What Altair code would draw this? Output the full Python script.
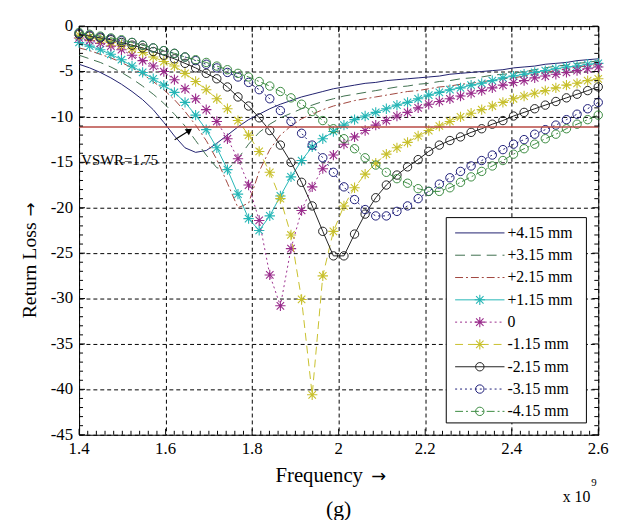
import altair as alt
import pandas as pd

# ---------------- data ----------------
freq = [1.4, 1.4245, 1.449, 1.4735, 1.498, 1.5224, 1.5469, 1.5714, 1.5959, 1.6204,
        1.6449, 1.6694, 1.6939, 1.7184, 1.7429, 1.7673, 1.7918, 1.8163, 1.8408, 1.8653,
        1.8898, 1.9143, 1.9388, 1.9633, 1.9878, 2.0122, 2.0367, 2.0612, 2.0857, 2.1102,
        2.1347, 2.1592, 2.1837, 2.2082, 2.2327, 2.2571, 2.2816, 2.3061, 2.3306, 2.3551,
        2.3796, 2.4041, 2.4286, 2.4531, 2.4776, 2.502, 2.5265, 2.551, 2.5755, 2.6]

rl_p415 = [-4.2, -4.6, -5.1, -5.7, -6.4, -7.2, -8.1, -9.2, -10.6, -12.1,
           -13.4, -13.9, -13.7, -12.9, -12.0, -11.1, -10.3, -9.7, -9.1, -8.6,
           -8.2, -7.8, -7.5, -7.2, -6.9, -6.7, -6.5, -6.3, -6.2, -6.0,
           -5.9, -5.8, -5.7, -5.6, -5.5, -5.3, -5.2, -5.1, -5.0, -4.9,
           -4.8, -4.6, -4.5, -4.4, -4.2, -4.1, -4.0, -3.8, -3.7, -3.6]
rl_p315 = [-3.2, -3.6, -4.0, -4.5, -5.1, -5.8, -6.6, -7.5, -8.5, -9.7,
           -11.0, -12.6, -14.2, -15.6, -15.8, -14.6, -13.0, -11.7, -10.8, -10.1,
           -9.6, -9.1, -8.7, -8.3, -8.0, -7.7, -7.5, -7.3, -7.1, -6.9,
           -6.7, -6.6, -6.4, -6.3, -6.1, -6.0, -5.8, -5.7, -5.6, -5.4,
           -5.3, -5.2, -5.0, -4.8, -4.6, -4.4, -4.3, -4.1, -4.0, -3.8]
rl_p215 = [-2.4, -2.7, -3.1, -3.5, -4.0, -4.6, -5.3, -6.1, -7.0, -8.1,
           -9.4, -10.9, -12.6, -14.7, -17.3, -20.0, -19.5, -16.0, -13.6, -12.0,
           -11.0, -10.2, -9.7, -9.2, -8.8, -8.5, -8.2, -8.0, -7.8, -7.6,
           -7.4, -7.2, -7.1, -6.9, -6.7, -6.6, -6.4, -6.3, -6.1, -6.0,
           -5.8, -5.7, -5.5, -5.3, -5.1, -4.9, -4.7, -4.5, -4.4, -4.2]
rl_p115 = [-1.8, -2.2, -2.6, -3.1, -3.7, -4.4, -5.1, -5.8, -6.5, -7.3,
           -8.4, -9.8, -11.4, -13.4, -15.8, -18.5, -21.2, -22.5, -20.9, -18.7,
           -16.6, -14.8, -13.3, -12.4, -11.6, -10.9, -10.3, -9.9, -9.5, -9.1,
           -8.7, -8.4, -8.0, -7.6, -7.3, -7.0, -6.8, -6.5, -6.3, -6.0,
           -5.7, -5.5, -5.3, -5.1, -4.9, -4.7, -4.5, -4.4, -4.2, -4.1]
rl_zero = [-1.3, -1.6, -1.9, -2.2, -2.6, -3.2, -3.8, -4.4, -5.0, -5.9,
           -6.9, -8.0, -9.2, -10.5, -12.4, -14.6, -17.5, -21.4, -27.4, -30.8,
           -24.5, -20.3, -17.7, -15.7, -14.2, -13.0, -12.2, -11.5, -10.9, -10.4,
           -9.9, -9.5, -9.0, -8.6, -8.3, -8.0, -7.7, -7.4, -7.1, -6.8,
           -6.5, -6.2, -6.0, -5.7, -5.5, -5.3, -5.1, -4.9, -4.7, -4.5]
rl_m115 = [-1.0, -1.2, -1.5, -1.8, -2.1, -2.5, -2.9, -3.4, -3.9, -4.4,
           -5.2, -6.1, -7.0, -8.0, -9.1, -10.4, -12.0, -13.8, -16.1, -19.0,
           -23.0, -30.1, -40.6, -27.5, -22.6, -19.8, -17.8, -16.3, -15.1, -14.1,
           -13.4, -12.8, -12.1, -11.5, -11.0, -10.5, -10.0, -9.6, -9.2, -8.8,
           -8.4, -8.0, -7.7, -7.4, -7.1, -6.8, -6.5, -6.3, -6.0, -5.8]
rl_m215 = [-0.9, -1.1, -1.3, -1.5, -1.8, -2.1, -2.4, -2.8, -3.2, -3.6,
           -4.1, -4.6, -5.2, -5.8, -6.7, -7.8, -8.8, -10.1, -11.5, -13.1,
           -15.0, -17.2, -19.8, -22.6, -25.3, -25.3, -22.9, -20.7, -18.9, -17.5,
           -16.4, -15.5, -14.7, -13.8, -13.1, -12.6, -12.2, -11.7, -11.3, -10.8,
           -10.4, -9.9, -9.5, -9.1, -8.7, -8.3, -7.9, -7.5, -7.1, -6.7]
rl_m315 = [-0.8, -1.0, -1.2, -1.4, -1.6, -1.8, -2.1, -2.4, -2.7, -3.0,
           -3.4, -3.8, -4.2, -4.6, -5.1, -5.6, -6.2, -7.0, -8.0, -9.3,
           -10.5, -11.8, -13.1, -14.5, -16.1, -17.7, -19.1, -20.2, -20.9, -20.9,
           -20.4, -19.8, -19.0, -18.2, -17.4, -16.7, -16.0, -15.4, -14.8, -14.2,
           -13.6, -13.0, -12.5, -11.9, -11.4, -10.9, -10.3, -9.7, -9.1, -8.4]
rl_m415 = [-0.7, -0.9, -1.1, -1.3, -1.5, -1.8, -2.1, -2.4, -2.7, -3.0,
           -3.4, -3.7, -4.0, -4.4, -4.8, -5.2, -5.6, -6.1, -6.6, -7.2,
           -7.9, -8.6, -9.4, -10.4, -11.3, -12.4, -13.5, -14.5, -15.3, -16.1,
           -16.8, -17.3, -17.9, -18.2, -18.2, -17.8, -17.2, -16.6, -16.0, -15.4,
           -14.8, -14.1, -13.5, -13.0, -12.4, -11.9, -11.3, -10.8, -10.3, -9.8]

series_names = ["+4.15 mm", "+3.15 mm", "+2.15 mm", "+1.15 mm", "0",
                "-1.15 mm", "-2.15 mm", "-3.15 mm", "-4.15 mm"]
series_values = [rl_p415, rl_p315, rl_p215, rl_p115, rl_zero,
                 rl_m115, rl_m215, rl_m315, rl_m415]

x_ticks = [1.4, 1.6, 1.8, 2.0, 2.2, 2.4, 2.6]
x_tick_labels = ["1.4", "1.6", "1.8", "2", "2.2", "2.4", "2.6"]
y_ticks = [0, -5, -10, -15, -20, -25, -30, -35, -40, -45]
y_tick_labels = ["0", "-5", "-10", "-15", "-20", "-25", "-30", "-35", "-40", "-45"]
vswr_level = [-11.1]
vswr_label = ["VSWR=1.75"]
vswr_label_pos = [1.405, -14.8]
arrow_x = [1.621, 1.655]
arrow_y = [-12.5, -11.5]

# ---------------- styles ----------------
W, H = 526, 414
FONT = "Liberation Serif"
ARROW_FONT = "DejaVu Sans"
ASTER = "M-1,0L1,0M0,-1L0,1M-0.72,-0.72L0.72,0.72M-0.72,0.72L0.72,-0.72"
styles = [
    ("#1f1f6e", None, None),
    ("#3d6e4c", [10, 6], None),
    ("#a0443c", [8, 3, 2, 3], None),
    ("#25b6b6", None, "aster"),
    ("#9a2c8c", [2, 3], "aster"),
    ("#c8c02c", [8, 5], "aster"),
    ("#222222", None, "circle"),
    ("#1c1c78", [2, 3], "circle"),
    ("#3a8a40", [8, 3, 2, 3], "circle"),
]

xscale = alt.Scale(domain=[1.4, 2.6], nice=False, zero=False)
yscale = alt.Scale(domain=[-45, 0], nice=False, zero=False)
xaxis = alt.Axis(values=x_ticks, labels=False, grid=True,
                 gridDash=[4, 3], gridColor="#000000", gridWidth=1, gridOpacity=1,
                 ticks=False, domain=False, title=None)
yaxis = alt.Axis(values=y_ticks, labels=False,
                 grid=True, gridDash=[4, 3], gridColor="#000000", gridWidth=1, gridOpacity=1,
                 ticks=False, domain=False, title=None)


def X(field):
    return alt.X(f"{field}:Q", scale=xscale, axis=xaxis)


def Y(field):
    return alt.Y(f"{field}:Q", scale=yscale, axis=yaxis)


def point_mark(color, marker):
    if marker == "circle":
        return dict(shape="circle", filled=False, size=72, strokeWidth=1, color=color, opacity=1)
    return dict(shape=ASTER, filled=False, size=110, strokeWidth=1.1, color=color, opacity=1)


layers = []
for name, vals, (color, dash, marker) in zip(series_names, series_values, styles):
    df = pd.DataFrame({"f": freq, "rl": vals})
    lk = dict(color=color, strokeWidth=1)
    if dash:
        lk["strokeDash"] = dash
    layers.append(alt.Chart(df).mark_line(**lk).encode(x=X("f"), y=Y("rl")))
    if marker:
        layers.append(alt.Chart(df).mark_point(**point_mark(color, marker)).encode(x=X("f"), y=Y("rl")))

# VSWR line, arrow and label
vdf = pd.DataFrame({"f": [x_ticks[0]], "f2": [x_ticks[-1]], "rl": vswr_level})
layers.append(alt.Chart(vdf).mark_rule(color="#b84a44", strokeWidth=1.5).encode(
    x=X("f"), x2="f2:Q", y=Y("rl")))
adf = pd.DataFrame({"f": arrow_x, "rl": arrow_y})
layers.append(alt.Chart(adf).mark_line(color="black", strokeWidth=1.2).encode(x=X("f"), y=Y("rl")))
layers.append(alt.Chart(adf.tail(1)).mark_point(shape="triangle-up", filled=True, color="black",
                                                 size=55, angle=55, opacity=1).encode(x=X("f"), y=Y("rl")))
tdf = pd.DataFrame({"f": [vswr_label_pos[0]], "rl": [vswr_label_pos[1]], "t": vswr_label})
layers.append(alt.Chart(tdf).mark_text(align="left", baseline="middle", font=FONT, fontSize=15,
                                       color="black").encode(x=X("f"), y=Y("rl"), text="t:N"))

# inner ticks (MATLAB style box)
one = pd.DataFrame({"a": [0]})
x_minor = [round(1.4 + 0.02 * i, 3) for i in range(61)]
y_minor = list(range(-45, 1))
xt = pd.DataFrame({"f": x_minor, "major": [i % 10 == 0 for i in range(61)]})
yt = pd.DataFrame({"rl": y_minor, "major": [v % 5 == 0 for v in y_minor]})
for df_t, L in [(xt[xt.major], 6), (xt[~xt.major], 4)]:
    layers.append(alt.Chart(df_t).mark_rule(color="black", strokeWidth=1).encode(
        x=X("f"), y=alt.value(H), y2=alt.value(H - L)))
    layers.append(alt.Chart(df_t).mark_rule(color="black", strokeWidth=1).encode(
        x=X("f"), y=alt.value(0), y2=alt.value(L)))
for df_t, L in [(yt[yt.major], 6), (yt[~yt.major], 4)]:
    layers.append(alt.Chart(df_t).mark_rule(color="black", strokeWidth=1).encode(
        y=Y("rl"), x=alt.value(0), x2=alt.value(L)))
    layers.append(alt.Chart(df_t).mark_rule(color="black", strokeWidth=1).encode(
        y=Y("rl"), x=alt.value(W), x2=alt.value(W - L)))

# tick labels as serif text
xl = pd.DataFrame({"f": x_ticks, "t": x_tick_labels})
layers.append(alt.Chart(xl).mark_text(font=FONT, fontSize=17, color="black", baseline="middle").encode(
    x=X("f"), y=alt.value(H + 14), text="t:N"))
yl = pd.DataFrame({"rl": y_ticks, "t": y_tick_labels})
layers.append(alt.Chart(yl).mark_text(font=FONT, fontSize=17, color="black", baseline="middle",
                                      align="right").encode(
    y=Y("rl"), x=alt.value(-6), text="t:N"))

# legend box
LX0, LX1, LY0, LY1 = 372, 514, 194, 402
layers.append(alt.Chart(one).mark_rect(fill="white", stroke="black", strokeWidth=1).encode(
    x=alt.value(LX0), x2=alt.value(LX1), y=alt.value(LY0), y2=alt.value(LY1)))
for i, (name, (color, dash, marker)) in enumerate(zip(series_names, styles)):
    ry = 209.5 + 22.6 * i
    rk = dict(color=color, strokeWidth=1)
    if dash:
        rk["strokeDash"] = dash
    layers.append(alt.Chart(one).mark_rule(**rk).encode(
        x=alt.value(381), x2=alt.value(431), y=alt.value(ry)))
    if marker:
        layers.append(alt.Chart(one).mark_point(**point_mark(color, marker)).encode(
            x=alt.value(406), y=alt.value(ry)))
    layers.append(alt.Chart(one).mark_text(align="left", baseline="middle", font=FONT,
                                           fontSize=16, color="black").encode(
        x=alt.value(434), y=alt.value(ry), text=alt.value(name)))

# titles and annotations
layers.append(alt.Chart(one).mark_text(font=FONT, fontSize=21, color="black", baseline="middle",
                                       align="left").encode(
    x=alt.value(199), y=alt.value(456), text=alt.value("Frequency")))
layers.append(alt.Chart(one).mark_text(font=ARROW_FONT, fontSize=18, color="black", baseline="middle",
                                       align="left").encode(
    x=alt.value(296), y=alt.value(457), text=alt.value("\u2192")))
layers.append(alt.Chart(one).mark_text(font=FONT, fontSize=20, color="black", baseline="middle",
                                       angle=270, align="left").encode(
    x=alt.value(-50), y=alt.value(296), text=alt.value("Return Loss")))
layers.append(alt.Chart(one).mark_text(font=ARROW_FONT, fontSize=17, color="black", baseline="middle",
                                       angle=270, align="left").encode(
    x=alt.value(-49), y=alt.value(193), text=alt.value("\u2192")))
layers.append(alt.Chart(one).mark_text(font=FONT, fontSize=16, color="black", baseline="middle",
                                       align="right").encode(
    x=alt.value(518), y=alt.value(477), text=alt.value("x 10")))
layers.append(alt.Chart(one).mark_text(font=FONT, fontSize=11, color="black", baseline="middle",
                                       align="left").encode(
    x=alt.value(519), y=alt.value(463), text=alt.value("9")))
layers.append(alt.Chart(one).mark_text(font=FONT, fontSize=22, color="black", baseline="middle").encode(
    x=alt.value(263), y=alt.value(489), text=alt.value("(g)")))

chart = alt.layer(*layers).properties(
    width=W, height=H,
    padding={"left": 72, "top": 15, "right": 20, "bottom": 83},
    autosize=alt.AutoSizeParams(type="none"),
    background="white",
).configure_view(stroke="black", strokeWidth=1)

chart.save("out.html", embed_options={"renderer": "svg", "actions": False})
